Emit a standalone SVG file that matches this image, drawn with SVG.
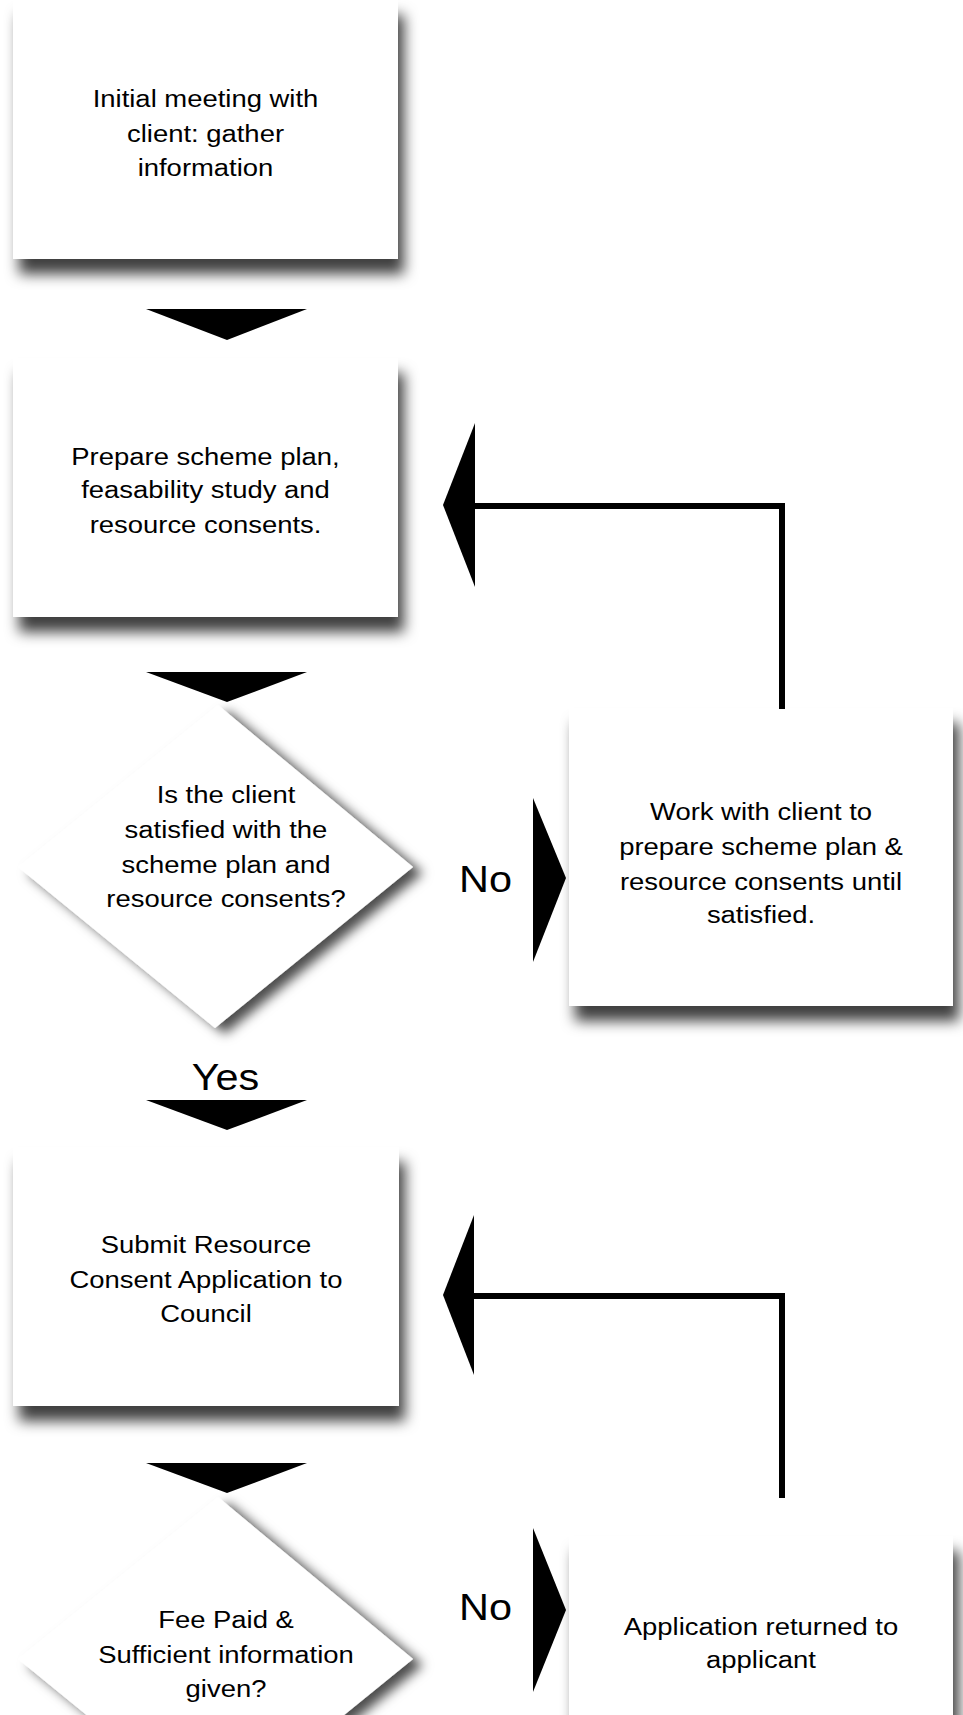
<svg xmlns="http://www.w3.org/2000/svg" width="963" height="1715" viewBox="0 0 963 1715">
<defs>
<style>
.lbl{font-family:"Liberation Sans",Arial,Helvetica,sans-serif;font-size:24.5px;fill:#000;text-anchor:middle}
.big{font-family:"Liberation Sans",Arial,Helvetica,sans-serif;font-size:37px;fill:#000;text-anchor:middle}
.box{fill:#fff;filter:url(#boxShadow)}
.dia{fill:#fff;filter:url(#diaShadow)}
.head{fill:#000}
.line{fill:none;stroke:#000;stroke-width:6;stroke-linejoin:miter}
</style>
<filter id="boxShadow" x="-10%" y="-10%" width="125%" height="130%">
<feGaussianBlur in="SourceAlpha" stdDeviation="7"/>
<feOffset dx="6" dy="15" result="b"/>
<feFlood flood-color="#000" flood-opacity="0.75"/>
<feComposite in2="b" operator="in"/>
<feMerge><feMergeNode/><feMergeNode in="SourceGraphic"/></feMerge>
</filter>
<filter id="diaShadow" x="-10%" y="-10%" width="130%" height="130%">
<feGaussianBlur in="SourceAlpha" stdDeviation="6"/>
<feOffset dx="10" dy="6" result="b"/>
<feFlood flood-color="#000" flood-opacity="0.7"/>
<feComposite in2="b" operator="in"/>
<feMerge><feMergeNode/><feMergeNode in="SourceGraphic"/></feMerge>
</filter>
</defs>
<rect width="963" height="1715" fill="#fff"/>

<g id="n1">
<rect class="box" x="13" y="0" width="385" height="259"/>
<g transform="translate(205.5 0) scale(1.12 1)">
<text class="lbl" x="0" y="107">Initial meeting with</text>
<text class="lbl" x="0" y="142">client: gather</text>
<text class="lbl" x="0" y="176">information</text>
</g>
</g>

<g id="n2">
<rect class="box" x="13" y="358" width="385" height="259"/>
<g transform="translate(205.5 0) scale(1.12 1)">
<text class="lbl" x="0" y="465">Prepare scheme plan,</text>
<text class="lbl" x="0" y="498.5">feasability study and</text>
<text class="lbl" x="0" y="533">resource consents.</text>
</g>
</g>

<g id="d1">
<polygon class="dia" points="218,705 413,867 215,1028 18,867"/>
<g transform="translate(226 0) scale(1.12 1)">
<text class="lbl" x="0" y="803">Is the client</text>
<text class="lbl" x="0" y="838">satisfied with the</text>
<text class="lbl" x="0" y="873">scheme plan and</text>
<text class="lbl" x="0" y="907">resource consents?</text>
</g>
</g>

<g id="n3">
<rect class="box" x="569" y="708" width="384" height="298"/>
<g transform="translate(761 0) scale(1.12 1)">
<text class="lbl" x="0" y="820">Work with client to</text>
<text class="lbl" x="0" y="855">prepare scheme plan &amp;</text>
<text class="lbl" x="0" y="890">resource consents until</text>
<text class="lbl" x="0" y="923">satisfied.</text>
</g>
</g>

<g id="n4">
<rect class="box" x="13" y="1147" width="386" height="259"/>
<g transform="translate(206 0) scale(1.12 1)">
<text class="lbl" x="0" y="1253">Submit Resource</text>
<text class="lbl" x="0" y="1288">Consent Application to</text>
<text class="lbl" x="0" y="1322">Council</text>
</g>
</g>

<g id="d2">
<polygon class="dia" points="218,1497 413,1659 215,1820 18,1659"/>
<g transform="translate(226 0) scale(1.12 1)">
<text class="lbl" x="0" y="1628">Fee Paid &amp;</text>
<text class="lbl" x="0" y="1663">Sufficient information</text>
<text class="lbl" x="0" y="1697">given?</text>
</g>
</g>

<g id="n5">
<rect class="box" x="569" y="1536" width="384" height="240"/>
<g transform="translate(761 0) scale(1.12 1)">
<text class="lbl" x="0" y="1635">Application returned to</text>
<text class="lbl" x="0" y="1668">applicant</text>
</g>
</g>

<g id="connectors">
<polygon class="head" points="146,309 307,309 227,340"/>
<polygon class="head" points="146,672 307,672 227,702"/>
<polygon class="head" points="146,1100 307,1100 227,1130"/>
<polygon class="head" points="146,1463 307,1463 227,1493"/>

<path class="line" d="M782,709 V506 H474"/>
<polygon class="head" points="443,505 475,423 475,587"/>
<path class="line" d="M782,1498 V1296 H473"/>
<polygon class="head" points="443,1295 474,1215 474,1375"/>

<polygon class="head" points="533,798 566,878 533,962"/>
<polygon class="head" points="533,1528 566,1610 533,1692"/>
</g>

<g id="labels">
<g transform="translate(485.5 0) scale(1.12 1)"><text class="big" x="0" y="892">No</text></g>
<g transform="translate(485.5 0) scale(1.12 1)"><text class="big" x="0" y="1620">No</text></g>
<g transform="translate(225.5 0) scale(1.12 1)"><text class="big" x="0" y="1090">Yes</text></g>
</g>
</svg>
